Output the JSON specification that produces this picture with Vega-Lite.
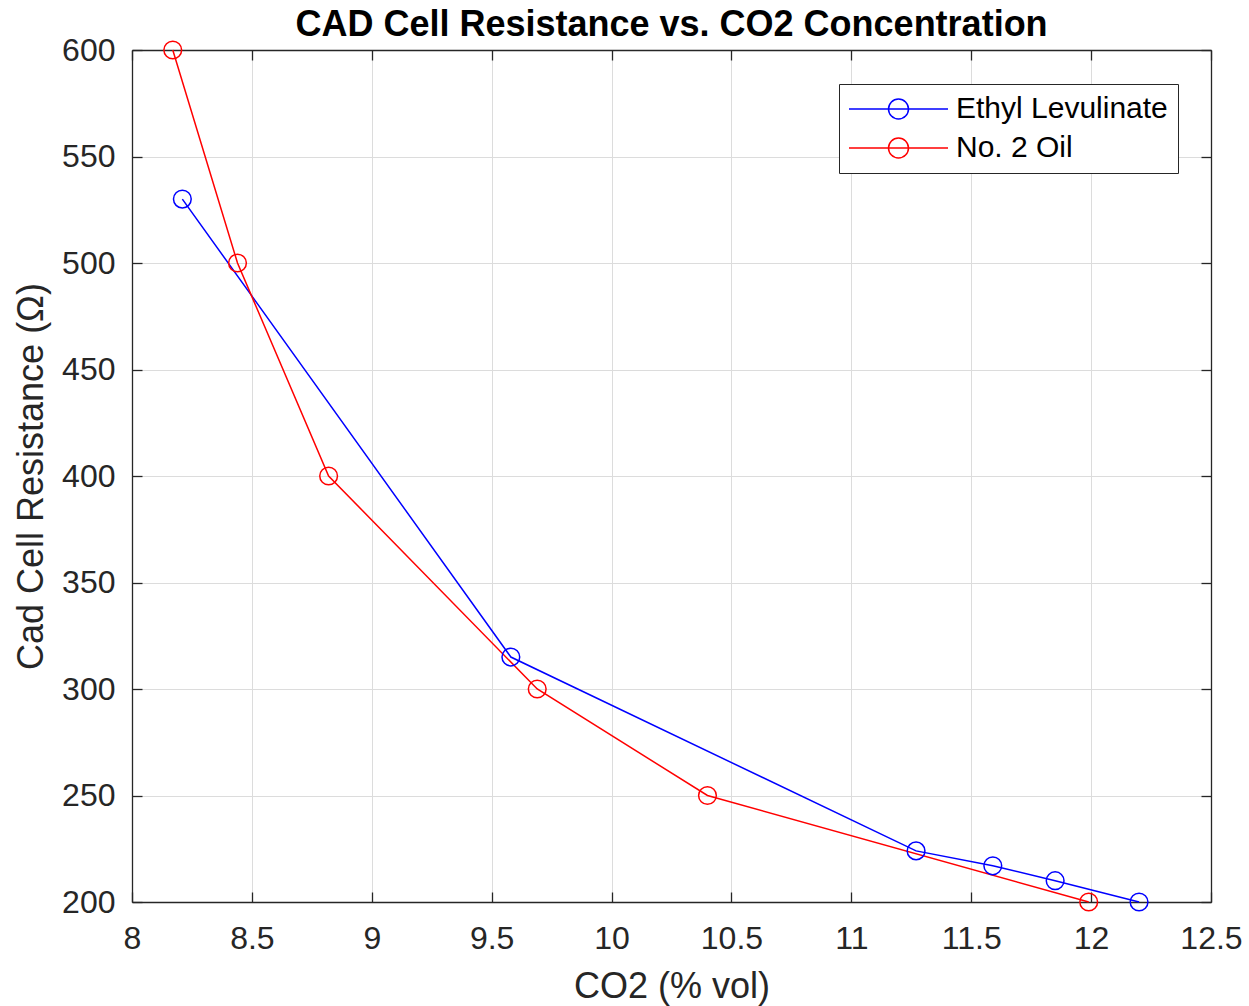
{
  "$schema": "https://vega.github.io/schema/vega-lite/v6.json",
  "width": 1079,
  "height": 852,
  "autosize": {"type": "none"},
  "padding": {"left": 132, "top": 50, "right": 38, "bottom": 104},
  "background": "white",
  "config": {
    "font": "Liberation Sans",
    "view": {"stroke": null},
    "axis": {
      "labelFont": "Liberation Sans",
      "titleFont": "Liberation Sans",
      "labelColor": "#262626",
      "titleColor": "#262626",
      "domainColor": "#262626",
      "tickColor": "#262626",
      "labelFontSize": 32,
      "titleFontSize": 36,
      "titleFontWeight": "normal",
      "gridColor": "#dcdcdc",
      "gridWidth": 1,
      "domainWidth": 1.3,
      "tickWidth": 1.3
    }
  },
  "title": {
    "text": "CAD Cell Resistance vs. CO2 Concentration",
    "fontSize": 36,
    "fontWeight": "bold",
    "font": "Liberation Sans",
    "color": "black",
    "anchor": "middle",
    "offset": -10
  },
  "data": {
    "values": [
      {"fuel": "Ethyl Levulinate", "co2": 8.21, "resistance": 530},
      {"fuel": "Ethyl Levulinate", "co2": 9.58, "resistance": 315},
      {"fuel": "Ethyl Levulinate", "co2": 11.27, "resistance": 224},
      {"fuel": "Ethyl Levulinate", "co2": 11.59, "resistance": 217},
      {"fuel": "Ethyl Levulinate", "co2": 11.85, "resistance": 210},
      {"fuel": "Ethyl Levulinate", "co2": 12.2, "resistance": 200},
      {"fuel": "No. 2 Oil", "co2": 8.17, "resistance": 600},
      {"fuel": "No. 2 Oil", "co2": 8.44, "resistance": 500},
      {"fuel": "No. 2 Oil", "co2": 8.82, "resistance": 400},
      {"fuel": "No. 2 Oil", "co2": 9.69, "resistance": 300},
      {"fuel": "No. 2 Oil", "co2": 10.4, "resistance": 250},
      {"fuel": "No. 2 Oil", "co2": 11.99, "resistance": 200}
    ]
  },
  "resolve": {"axis": {"x": "independent", "y": "independent"}},
  "layer": [
    {
      "mark": {"type": "line", "strokeWidth": 1.5},
      "encoding": {
        "x": {
          "field": "co2", "type": "quantitative",
          "scale": {"domain": [8, 12.5], "nice": false, "zero": false},
          "axis": {
            "orient": "bottom", "title": "CO2 (% vol)",
            "values": [8, 8.5, 9, 9.5, 10, 10.5, 11, 11.5, 12, 12.5],
            "format": "~g", "tickSize": -10, "labelPadding": 31,
            "titlePadding": 15, "grid": true, "labelFlush": false
          }
        },
        "y": {
          "field": "resistance", "type": "quantitative",
          "scale": {"domain": [200, 600], "nice": false, "zero": false},
          "axis": {
            "orient": "left", "title": "Cad Cell Resistance (Ω)",
            "values": [200, 250, 300, 350, 400, 450, 500, 550, 600],
            "tickSize": -10, "labelPadding": 27, "titlePadding": 11,
            "grid": true, "labelFlush": false
          }
        },
        "color": {
          "field": "fuel", "type": "nominal",
          "scale": {"domain": ["Ethyl Levulinate", "No. 2 Oil"], "range": ["#0000ff", "#ff0000"]}
        },
        "detail": {"field": "fuel"}
      }
    },
    {
      "mark": {"type": "point", "shape": "circle", "filled": false, "size": 314, "strokeWidth": 1.5, "opacity": 1},
      "encoding": {
        "x": {
          "field": "co2", "type": "quantitative",
          "axis": {
            "orient": "top", "title": null, "labels": false,
            "values": [8, 8.5, 9, 9.5, 10, 10.5, 11, 11.5, 12, 12.5],
            "tickSize": -10, "grid": false
          }
        },
        "y": {
          "field": "resistance", "type": "quantitative",
          "axis": {
            "orient": "right", "title": null, "labels": false,
            "values": [200, 250, 300, 350, 400, 450, 500, 550, 600],
            "tickSize": -10, "grid": false
          }
        },
        "color": {
          "field": "fuel", "type": "nominal",
          "legend": {
            "title": null,
            "orient": "none",
            "legendX": 707,
            "legendY": 34,
            "symbolType": "M-1.5,0H8.4M3.45,0m-1,0a1,1,0,1,0,2,0a1,1,0,1,0,-2,0",
            "symbolSize": 400,
            "symbolStrokeWidth": 1.5,
            "symbolFillColor": "transparent",
            "labelFont": "Liberation Sans",
            "labelFontSize": 30,
            "labelColor": "black",
            "labelLimit": 500,
            "labelOffset": 77,
            "rowPadding": 9,
            "padding": 10,
            "strokeColor": "#262626",
            "fillColor": "white"
          }
        }
      }
    }
  ]
}
